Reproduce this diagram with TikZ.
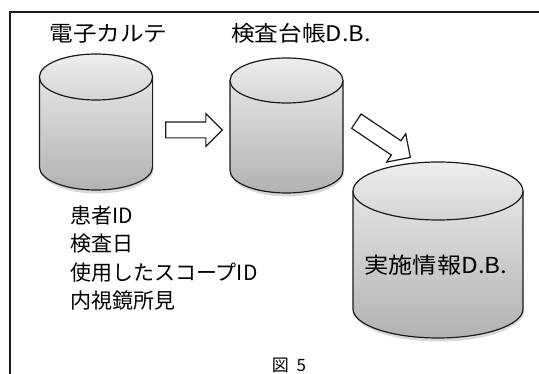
\documentclass[tikz,border=0pt]{standalone}
\usepackage{fontspec}
\setmainfont{Noto Sans CJK JP}
\newfontfamily\jpw[FakeStretch=1.1]{Noto Sans CJK JP}
\usetikzlibrary{shapes.arrows}
\definecolor{bodytop}{HTML}{E4E4E4}
\definecolor{bodybot}{HTML}{B2B2B2}
\definecolor{captop}{HTML}{EEEEEE}
\definecolor{capbot}{HTML}{D4D4D4}
\definecolor{inkc}{HTML}{1A1A1A}
\tikzset{
  cylline/.style={draw=inkc, line width=1.2pt},
  blockarrow/.style={shape=single arrow, draw=inkc, line width=1.2pt, fill=white,
    inner xsep=0pt, single arrow head extend=8.5pt, single arrow tip angle=90},
  toplabel/.style={anchor=base, inner sep=0pt, font=\jpw\fontsize{21.5}{24}\selectfont},
  listlabel/.style={anchor=base west, inner sep=0pt, font=\fontsize{21}{24}\selectfont},
}
\newcommand\dbcyl[6]{%
  \draw[gray!60, opacity=0.5, line width=3pt] (#2-#4+2,#6+1) arc[start angle=180,end angle=360,x radius=#4pt-1pt,y radius=#5pt+1pt];
  \shade[top color=bodytop, bottom color=bodybot] (#2-#4,#3) -- (#2-#4,#6)
    arc[start angle=180,end angle=360,x radius=#4pt,y radius=#5pt] -- (#2+#4,#3) -- cycle;
  \draw[cylline] (#2-#4,#3) -- (#2-#4,#6)
    arc[start angle=180,end angle=360,x radius=#4pt,y radius=#5pt] -- (#2+#4,#3);
  \shade[top color=captop, bottom color=capbot] (#2,#3) ellipse[x radius=#4pt, y radius=#5pt];
  \draw[cylline] (#2,#3) ellipse[x radius=#4pt, y radius=#5pt];
  \coordinate (#1) at (#2,#3);
}
\begin{document}
\begin{tikzpicture}[x=1pt,y=-1pt]
\useasboundingbox (0,0) rectangle (539,374);
\fill[white] (0,0) rectangle (539,374);
\begin{scope}
  \clip (0,0) rectangle (539,374);
  \draw[inkc, line width=1.3pt] (10,12) rectangle (580,420);
\end{scope}

\dbcyl{karte}{96}{77}{56.6}{23}{167}
\dbcyl{kensa}{286.5}{80.5}{56.5}{22.5}{170.5}
\dbcyl{jisshi}{438}{191}{85}{29}{309}

\node[toplabel] (lkarte) at (108.5,42) {電子カルテ};
\node[toplabel] (lkensa) at (301,42) {検査台帳D.B.};
\node[anchor=base, inner sep=0pt, font=\jpw\fontsize{22}{24}\selectfont] (ljisshi) at (436,273.5) {実施情報D.B.};

\node[listlabel] (i1) at (70,223.5) {患者ID};
\node[listlabel] (i2) at (70,251.8) {検査日};
\node[listlabel] (i3) at (70,280.1) {使用したスコープID};
\node[listlabel] (i4) at (70,308.4) {内視鏡所見};

\node[blockarrow, inner ysep=7.3pt, minimum height=56.6pt] (a1) at (190,130) {};
\node[blockarrow, inner ysep=8pt, minimum height=65pt, rotate=-33.9] (a2) at (379.8,136.9) {};

\node[anchor=base, inner sep=0pt, font=\fontsize{17}{20}\selectfont] (fig) at (289,371.5) {図\hspace{0.45em}5};
\end{tikzpicture}
\end{document}
